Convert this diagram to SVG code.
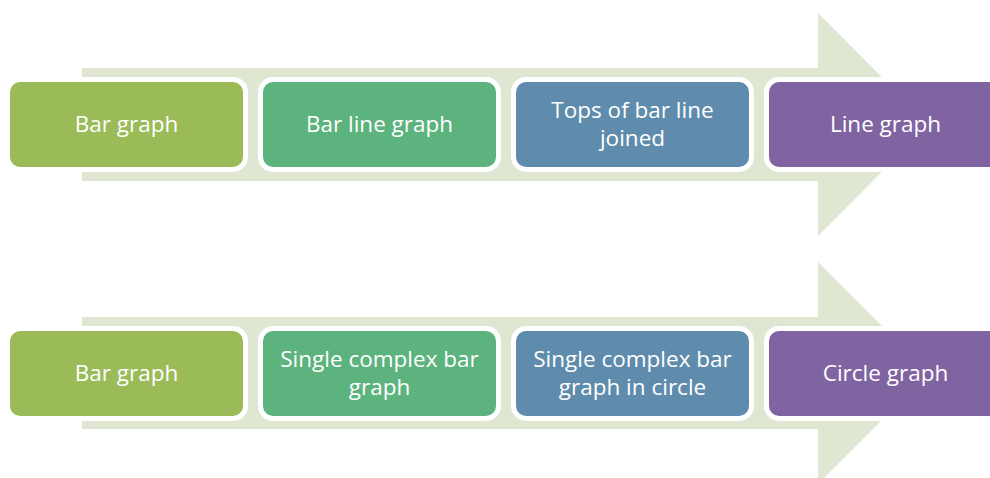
<svg xmlns="http://www.w3.org/2000/svg" width="990" height="478" viewBox="0 0 990 478">
<style>
.arrow{fill:#DFE7D3}
.box{stroke:#FFFFFF;stroke-width:10;paint-order:stroke}
.b1{fill:#9BBB59}.b2{fill:#5CB37D}.b3{fill:#5F8CAC}.b4{fill:#8064A2}
text{font-family:"Open Sans","Noto Sans",sans-serif;font-size:22.5px;fill:#FFFFFF;text-anchor:middle}
</style>
<rect width="990" height="478" fill="#FFFFFF"/>
<g id="connectors">
<polygon class="arrow" points="82,68 818,68 818,13 929,124.5 818,236 818,181 82,181"/>
<polygon class="arrow" points="82,317 818,317 818,262 929,373 818,484 818,429 82,429"/>
</g>
<g id="row1-bar-graph"><rect class="box b1" x="10" y="82" width="233" height="85" rx="10"/><text x="126.5" y="132">Bar graph</text></g>
<g id="row1-bar-line-graph"><rect class="box b2" x="263" y="82" width="233" height="85" rx="10"/><text x="379.5" y="132">Bar line graph</text></g>
<g id="row1-tops-joined"><rect class="box b3" x="516" y="82" width="233" height="85" rx="10"/><text x="632.5" y="118">Tops of bar line</text><text x="632.5" y="146">joined</text></g>
<g id="row1-line-graph"><rect class="box b4" x="769" y="82" width="233" height="85" rx="10"/><text x="885.5" y="132">Line graph</text></g>
<g id="row2-bar-graph"><rect class="box b1" x="10" y="331" width="233" height="85" rx="10"/><text x="126.5" y="381">Bar graph</text></g>
<g id="row2-single-complex"><rect class="box b2" x="263" y="331" width="233" height="85" rx="10"/><text x="379.5" y="367">Single complex bar</text><text x="379.5" y="395">graph</text></g>
<g id="row2-single-complex-circle"><rect class="box b3" x="516" y="331" width="233" height="85" rx="10"/><text x="632.5" y="367">Single complex bar</text><text x="632.5" y="395">graph in circle</text></g>
<g id="row2-circle-graph"><rect class="box b4" x="769" y="331" width="233" height="85" rx="10"/><text x="885.5" y="381">Circle graph</text></g>
</svg>
